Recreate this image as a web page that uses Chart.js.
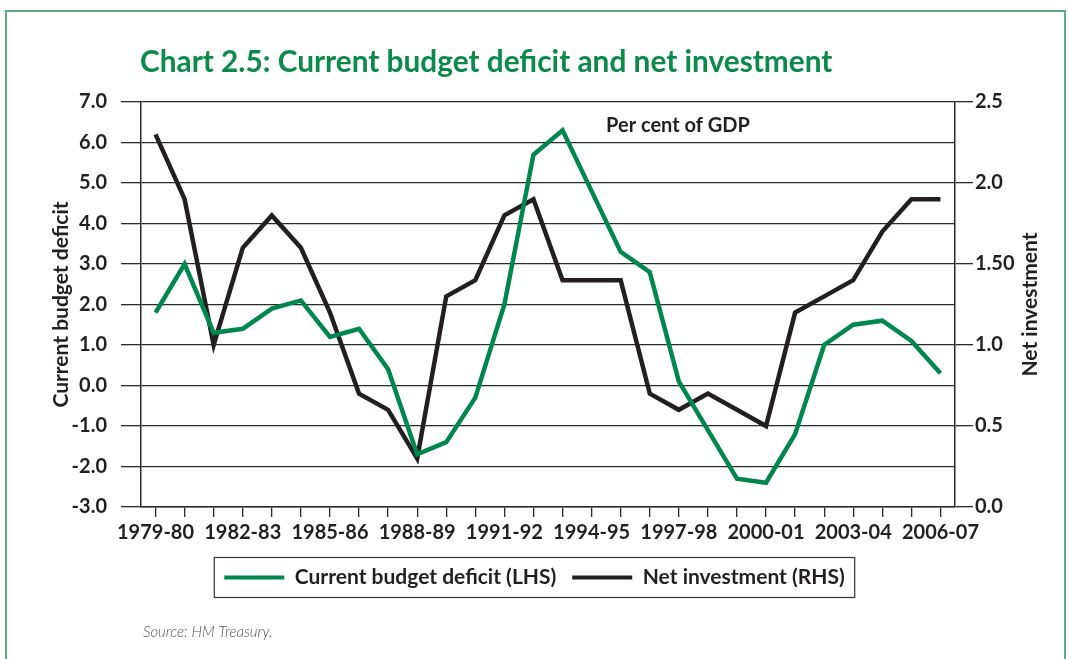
<!DOCTYPE html>
<html>
<head>
<meta charset="utf-8">
<script src="https://cdn.jsdelivr.net/npm/chart.js@4"></script>
<style>
  html, body { margin: 0; padding: 0; background: #fff; }
  #wrap { position: relative; width: 1069px; height: 659px; overflow: hidden; }
  #frame { position: absolute; left: 5px; top: 10px; width: 1061px; height: 700px;
           border: 2px solid #5fae82; box-sizing: border-box; pointer-events: none; }
  canvas { position: absolute; left: 0; top: 0; }
</style>
</head>
<body>
<div id="wrap">
  <canvas id="chart" width="1069" height="659"></canvas>
  <div id="frame"></div>
</div>
<script>
const categories = ['1979-80','1980-81','1981-82','1982-83','1983-84','1984-85','1985-86',
  '1986-87','1987-88','1988-89','1989-90','1990-91','1991-92','1992-93','1993-94',
  '1994-95','1995-96','1996-97','1997-98','1998-99','1999-00','2000-01','2001-02',
  '2002-03','2003-04','2004-05','2005-06','2006-07'];

// current budget deficit, per cent of GDP (LHS)
const deficit = [1.8, 3.0, 1.3, 1.4, 1.9, 2.1, 1.2, 1.4, 0.4, -1.7, -1.4, -0.3, 2.0, 5.7,
  6.3, 4.8, 3.3, 2.8, 0.1, -1.1, -2.3, -2.4, -1.2, 1.0, 1.5, 1.6, 1.1, 0.3];

// net investment, per cent of GDP (RHS)
const netInvestment = [2.3, 1.9, 1.0, 1.6, 1.8, 1.6, 1.2, 0.7, 0.6, 0.3, 1.3, 1.4, 1.8, 1.9,
  1.4, 1.4, 1.4, 0.7, 0.6, 0.7, 0.6, 0.5, 1.2, 1.3, 1.4, 1.7, 1.9, 1.9];

const GREEN = '#00864f';
const BLACK = '#231f20';
const GRID = '#2a2a2a';
const FONT = 'Lato';

const decorations = {
  id: 'decorations',
  afterDraw(chart) {
    const ctx = chart.ctx;
    const area = chart.chartArea;
    ctx.save();
    // title
    ctx.fillStyle = '#0b8a4c';
    ctx.font = 'bold 29.8px ' + FONT;
    ctx.textAlign = 'left';
    ctx.textBaseline = 'alphabetic';
    ctx.fillText('Chart 2.5: Current budget deficit and net investment', 140, 72);
    // unit note
    ctx.fillStyle = BLACK;
    ctx.font = 'bold 20px ' + FONT;
    ctx.textAlign = 'center';
    ctx.textBaseline = 'middle';
    ctx.fillText('Per cent of GDP', 678, 126);
    // right axis title, reading upwards
    ctx.save();
    ctx.translate(1030, (area.top + area.bottom) / 2);
    ctx.rotate(-Math.PI / 2);
    ctx.font = 'bold 21px ' + FONT;
    ctx.fillText('Net investment', 0, 0);
    ctx.restore();
    // frame round the legend
    const boxes = chart.legend.legendHitBoxes;
    if (boxes && boxes.length) {
      const first = boxes[0], last = boxes[boxes.length - 1];
      const cy = first.top + first.height / 2;
      ctx.strokeStyle = '#333';
      ctx.lineWidth = 1.2;
      ctx.strokeRect(first.left - 10, cy - 20, last.left + last.width - first.left + 20, 40);
    }
    // source
    ctx.fillStyle = '#555';
    ctx.font = 'italic 300 15px ' + FONT;
    ctx.textAlign = 'left';
    ctx.fillText('Source: HM Treasury.', 143, 632);
    ctx.restore();
  }
};

new Chart(document.getElementById('chart'), {
  type: 'line',
  data: {
    labels: categories,
    datasets: [
      {
        label: 'Current budget deficit (LHS)',
        data: deficit,
        borderColor: GREEN,
        backgroundColor: GREEN,
        borderWidth: 4.5,
        pointRadius: 0,
        tension: 0,
        yAxisID: 'y'
      },
      {
        label: 'Net investment (RHS)',
        data: netInvestment,
        borderColor: BLACK,
        backgroundColor: BLACK,
        borderWidth: 4.5,
        pointRadius: 0,
        tension: 0,
        yAxisID: 'y1'
      }
    ]
  },
  options: {
    responsive: false,
    maintainAspectRatio: false,
    animation: false,
    layout: { padding: { top: 102, left: 0, right: 0, bottom: 61 } },
    plugins: {
      title: { display: false },
      tooltip: { enabled: false },
      legend: {
        position: 'bottom',
        labels: {
          boxWidth: 60,
          boxHeight: 4,
          padding: 16,
          color: BLACK,
          font: { family: FONT, size: 21, weight: 'bold' },
          generateLabels(chart) {
            return Chart.defaults.plugins.legend.labels.generateLabels(chart).map(item => {
              item.lineWidth = 0;
              item.fillStyle = item.strokeStyle;
              return item;
            });
          }
        }
      }
    },
    scales: {
      x: {
        offset: true,
        grid: { display: true, drawOnChartArea: false, drawTicks: true, tickLength: 10, color: GRID, lineWidth: 1.3 },
        border: { display: true, color: GRID, width: 1.5 },
        ticks: {
          autoSkip: false,
          maxRotation: 0,
          padding: 4,
          color: BLACK,
          font: { family: FONT, size: 20, weight: 'bold' },
          callback: (val, i) => (i % 3 === 0 ? categories[i] : '')
        },
        afterFit(scale) { scale.height = 44; }
      },
      y: {
        position: 'left',
        min: -3,
        max: 7,
        grid: { color: GRID, lineWidth: 1.3, tickLength: 20, drawTicks: true },
        border: { display: true, color: GRID, width: 1.5 },
        ticks: {
          stepSize: 1,
          padding: 14,
          color: BLACK,
          font: { family: FONT, size: 20, weight: 'bold' },
          callback: v => v.toFixed(1)
        },
        title: {
          display: true,
          text: 'Current budget deficit',
          color: BLACK,
          padding: { top: 49, bottom: 4 },
          font: { family: FONT, size: 21, weight: 'bold' }
        },
        afterFit(scale) { scale.width = 141; }
      },
      y1: {
        position: 'right',
        min: 0,
        max: 2.5,
        grid: { drawOnChartArea: false, color: GRID, lineWidth: 1.3, tickLength: 18, drawTicks: true },
        border: { display: true, color: GRID, width: 1.5 },
        ticks: {
          stepSize: 0.5,
          padding: 2,
          color: BLACK,
          font: { family: FONT, size: 20, weight: 'bold' },
          callback: v => (v === 1.5 ? '1.50' : v.toFixed(1))
        },
        afterFit(scale) { scale.width = 114; }
      }
    }
  },
  plugins: [decorations]
});
</script>
</body>
</html>
